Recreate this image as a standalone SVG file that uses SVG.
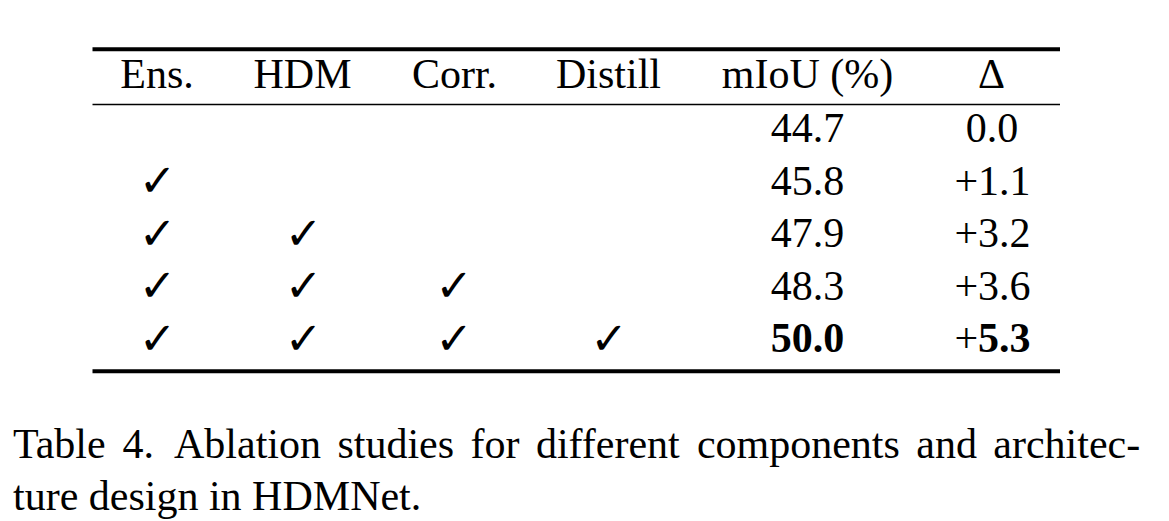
<svg xmlns="http://www.w3.org/2000/svg" width="1169" height="521" viewBox="0 0 1169 521">
  <style>
    .t { font-family: "Liberation Serif", "Times New Roman", serif; font-size: 42px; fill: #000; }
    .c { text-anchor: middle; }
    .b { font-weight: bold; }
    .ck { font-family: "DejaVu Sans", sans-serif; font-size: 45px; fill: #000; text-anchor: middle; }
    .rule { stroke: #000; }
  </style>
  <rect width="1169" height="521" fill="#fff"/>

  <g id="rules">
    <line class="rule" x1="92.5" y1="49.3" x2="1060" y2="49.3" stroke-width="4"/>
    <line class="rule" x1="92.5" y1="104.5" x2="1060" y2="104.5" stroke-width="1.6"/>
    <line class="rule" x1="92.5" y1="371.3" x2="1060" y2="371.3" stroke-width="4"/>
  </g>

  <g id="header" class="t c">
    <text x="157" y="88">Ens.</text>
    <text x="302.5" y="88">HDM</text>
    <text x="454.5" y="88">Corr.</text>
    <text x="608.5" y="88">Distill</text>
    <text x="807.5" y="88">mIoU (%)</text>
    <text x="991.5" y="88">Δ</text>
  </g>

  <g id="row1">
    <text class="t c" x="807.5" y="142">44.7</text>
    <text class="t c" x="992" y="142">0.0</text>
  </g>
  <g id="row2">
    <text class="ck" x="157.5" y="196">✓</text>
    <text class="t c" x="807.5" y="194.5">45.8</text>
    <text class="t c" x="992.5" y="194.5">+1.1</text>
  </g>
  <g id="row3">
    <text class="ck" x="157.5" y="248.5">✓</text>
    <text class="ck" x="303.5" y="248.5">✓</text>
    <text class="t c" x="807.5" y="247">47.9</text>
    <text class="t c" x="992.5" y="247">+3.2</text>
  </g>
  <g id="row4">
    <text class="ck" x="157.5" y="301">✓</text>
    <text class="ck" x="303.5" y="301">✓</text>
    <text class="ck" x="454" y="301">✓</text>
    <text class="t c" x="807.5" y="299.5">48.3</text>
    <text class="t c" x="992.5" y="299.5">+3.6</text>
  </g>
  <g id="row5">
    <text class="ck" x="157.5" y="353.5">✓</text>
    <text class="ck" x="303.5" y="353.5">✓</text>
    <text class="ck" x="454" y="353.5">✓</text>
    <text class="ck" x="609" y="353.5">✓</text>
    <text class="t c b" x="807.5" y="352">50.0</text>
    <text class="t c" x="992.5" y="352">+<tspan class="b">5.3</tspan></text>
  </g>

  <g id="caption" class="t">
    <text y="458"><tspan x="13">Table</tspan><tspan x="122.6">4.</tspan><tspan x="174">Ablation</tspan><tspan x="337.4">studies</tspan><tspan x="470.5">for</tspan><tspan x="535.9">different</tspan><tspan x="696.9">components</tspan><tspan x="916.3">and</tspan><tspan x="993.3">architec-</tspan></text>
    <text x="13" y="510">ture design in HDMNet.</text>
  </g>
</svg>
